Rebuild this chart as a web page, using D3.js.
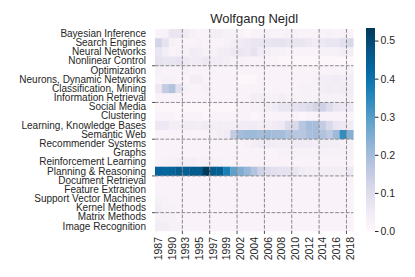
<!DOCTYPE html>
<html>
<head>
<meta charset="utf-8">
<script src="https://cdn.jsdelivr.net/npm/d3@7"></script>
<style>
  body { margin: 0; background: #fff; }
  text { font-family: "Liberation Sans", Arial, sans-serif; fill: #262626; }
</style>
</head>
<body>
<svg id="heatmap" width="415" height="277"></svg>
<script>
const title = "Wolfgang Nejdl";

const years = [1987, 1989, 1990, 1991, 1993, 1994, 1995, 1996, 1997, 1998, 1999, 2000,
  2002, 2003, 2004, 2005, 2006, 2007, 2008, 2009, 2010, 2011, 2012, 2013, 2014,
  2015, 2016, 2017, 2018];
const yearLabels = [1987, 1990, 1993, 1995, 1997, 1999, 2002, 2004, 2006, 2008, 2010,
  2012, 2014, 2016, 2018];

const topics = ["Bayesian Inference", "Search Engines", "Neural Networks", "Nonlinear Control",
  "Optimization", "Neurons, Dynamic Networks", "Classification, Mining", "Information Retrieval",
  "Social Media", "Clustering", "Learning, Knowledge Bases", "Semantic Web",
  "Recommender Systems", "Graphs", "Reinforcement Learning", "Planning & Reasoning",
  "Document Retrieval", "Feature Extraction", "Support Vector Machines", "Kernel Methods",
  "Matrix Methods", "Image Recognition"];

// one row of shares per topic, one value per year column
const bayesian = [0.02,0.03,0.07,0.07,0.05,0.03,0.02,0.02,0.04,0.04,0.03,0.03,0.02,0.01,0.02,0.02,0.03,0.02,0.02,0.03,0.03,0.02,0.02,0.02,0.02,0.03,0.02,0.03,0.02];
const search = [0.12,0.08,0.03,0.02,0.02,0.02,0.03,0.02,0.02,0.02,0.03,0.04,0.05,0.06,0.07,0.07,0.07,0.08,0.08,0.07,0.07,0.07,0.06,0.05,0.06,0.07,0.07,0.09,0.11];
const neural = [0.07,0.04,0.02,0.03,0.03,0.05,0.04,0.03,0.03,0.04,0.05,0.06,0.07,0.06,0.08,0.05,0.04,0.03,0.03,0.02,0.02,0.02,0.02,0.02,0.03,0.03,0.03,0.04,0.04];
const nonlinear = [0.08,0.07,0.07,0.08,0.06,0.05,0.05,0.06,0.05,0.05,0.04,0.03,0.03,0.02,0.02,0.02,0.02,0.02,0.01,0.01,0.01,0.01,0.01,0.01,0.01,0.01,0.01,0.01,0.01];
const optimization = [0.03,0.02,0.02,0.02,0.03,0.02,0.02,0.02,0.02,0.02,0.02,0.02,0.02,0.02,0.02,0.02,0.02,0.02,0.02,0.02,0.02,0.02,0.02,0.02,0.02,0.02,0.02,0.02,0.03];
const neurons = [0.02,0.03,0.03,0.02,0.02,0.04,0.04,0.02,0.02,0.02,0.02,0.02,0.01,0.01,0.01,0.02,0.02,0.02,0.02,0.02,0.02,0.02,0.02,0.03,0.04,0.04,0.05,0.04,0.04];
const classification = [0.06,0.15,0.18,0.09,0.03,0.02,0.02,0.03,0.02,0.02,0.02,0.02,0.02,0.02,0.02,0.02,0.02,0.02,0.02,0.02,0.02,0.03,0.03,0.03,0.04,0.05,0.04,0.05,0.05];
const retrieval = [0.02,0.02,0.02,0.02,0.02,0.02,0.02,0.02,0.02,0.02,0.02,0.02,0.02,0.02,0.04,0.04,0.03,0.03,0.04,0.03,0.03,0.03,0.03,0.03,0.03,0.03,0.03,0.03,0.04];
const social = [0.01,0.01,0.01,0.01,0.01,0.01,0.01,0.01,0.01,0.01,0.01,0.01,0.02,0.02,0.03,0.03,0.04,0.05,0.07,0.07,0.08,0.09,0.10,0.12,0.13,0.10,0.07,0.06,0.06];
const clustering = [0.02,0.02,0.02,0.01,0.02,0.02,0.02,0.01,0.02,0.02,0.02,0.02,0.02,0.02,0.01,0.02,0.02,0.02,0.02,0.02,0.02,0.01,0.02,0.02,0.02,0.02,0.02,0.02,0.02];
const knowledge = [0.06,0.06,0.04,0.04,0.05,0.05,0.04,0.05,0.04,0.04,0.04,0.04,0.05,0.05,0.05,0.04,0.04,0.05,0.06,0.10,0.11,0.17,0.20,0.20,0.15,0.11,0.07,0.06,0.05];
const semantic = [0.02,0.02,0.02,0.02,0.02,0.02,0.02,0.02,0.03,0.04,0.05,0.15,0.20,0.21,0.21,0.20,0.21,0.20,0.20,0.18,0.17,0.17,0.19,0.20,0.18,0.16,0.21,0.34,0.24];
const recommender = [0.02,0.02,0.02,0.02,0.02,0.02,0.02,0.02,0.02,0.02,0.02,0.02,0.02,0.03,0.04,0.05,0.05,0.04,0.04,0.04,0.05,0.05,0.05,0.04,0.04,0.04,0.04,0.03,0.03];
const graphs = [0.02,0.02,0.02,0.02,0.02,0.02,0.02,0.02,0.02,0.02,0.02,0.02,0.02,0.02,0.02,0.02,0.02,0.02,0.03,0.03,0.03,0.03,0.03,0.03,0.03,0.03,0.03,0.03,0.03];
const reinforcement = [0.02,0.03,0.03,0.04,0.04,0.04,0.03,0.03,0.03,0.03,0.02,0.02,0.02,0.02,0.02,0.02,0.02,0.02,0.02,0.02,0.02,0.02,0.02,0.02,0.02,0.02,0.02,0.02,0.02];
const planning = [0.44,0.43,0.44,0.46,0.45,0.46,0.46,0.53,0.46,0.45,0.37,0.29,0.25,0.22,0.18,0.13,0.10,0.09,0.08,0.08,0.07,0.05,0.04,0.04,0.04,0.04,0.04,0.04,0.06];
const document_ = [0.02,0.02,0.02,0.02,0.02,0.02,0.02,0.02,0.02,0.02,0.02,0.02,0.02,0.02,0.02,0.02,0.02,0.02,0.02,0.02,0.02,0.02,0.02,0.02,0.02,0.02,0.02,0.02,0.02];
const feature = [0.02,0.02,0.02,0.02,0.02,0.02,0.02,0.02,0.02,0.02,0.02,0.02,0.02,0.02,0.02,0.02,0.02,0.02,0.02,0.02,0.02,0.02,0.02,0.02,0.02,0.02,0.02,0.02,0.02];
const svm = [0.03,0.03,0.02,0.02,0.02,0.02,0.02,0.02,0.02,0.02,0.02,0.02,0.02,0.02,0.02,0.02,0.02,0.02,0.02,0.02,0.02,0.02,0.02,0.02,0.02,0.02,0.02,0.02,0.02];
const kernel = [0.04,0.03,0.03,0.02,0.02,0.02,0.02,0.02,0.02,0.02,0.02,0.02,0.02,0.02,0.02,0.02,0.02,0.02,0.02,0.02,0.02,0.02,0.02,0.02,0.02,0.02,0.02,0.02,0.02];
const matrix = [0.03,0.03,0.03,0.02,0.02,0.02,0.02,0.02,0.02,0.02,0.02,0.02,0.02,0.02,0.02,0.02,0.02,0.02,0.02,0.02,0.02,0.02,0.02,0.02,0.02,0.02,0.02,0.02,0.02];
const image = [0.04,0.04,0.03,0.03,0.02,0.02,0.02,0.02,0.02,0.02,0.02,0.02,0.02,0.02,0.02,0.02,0.02,0.02,0.02,0.02,0.02,0.02,0.02,0.02,0.02,0.02,0.02,0.02,0.02];

const rows = [bayesian, search, neural, nonlinear, optimization, neurons, classification,
  retrieval, social, clustering, knowledge, semantic, recommender, graphs, reinforcement,
  planning, document_, feature, svm, kernel, matrix, image];

const colorTicks = [0, 0.1, 0.2, 0.3, 0.4, 0.5];
const vmax = 0.533;

const cells = [];
rows.forEach((vals, r) => vals.forEach((v, c) => cells.push({ topic: topics[r], year: years[c], value: v })));

const svg = d3.select("#heatmap");
const mLeft = 155, mRight = 353.3, mTop = 29, mBottom = 231;

const x = d3.scaleBand().domain(years).range([mLeft, mRight]);
const y = d3.scaleBand().domain(topics).range([mTop, mBottom]);
// index scales for the grid lines (every 4th cell edge)
const xi = d3.scaleLinear().domain([0, years.length]).range([mLeft, mRight]);
const yi = d3.scaleLinear().domain([0, topics.length]).range([mTop, mBottom]);

const color = d3.scaleSequential(d3.interpolatePuBu).domain([0, vmax]);

svg.append("g")
  .selectAll("rect")
  .data(cells)
  .join("rect")
  .attr("x", d => x(d.year))
  .attr("y", d => y(d.topic))
  .attr("width", x.bandwidth() + 0.3)
  .attr("height", y.bandwidth() + 0.3)
  .attr("fill", d => color(d.value));

// dashed grid on top of the cells
const gx = d3.range(4, years.length, 4);
const gy = d3.range(4, topics.length, 4);
const grid = svg.append("g").attr("stroke", "#8a8a8a").attr("stroke-width", 1);
grid.selectAll(".vx").data(gx).join("line")
  .attr("x1", d => xi(d)).attr("x2", d => xi(d))
  .attr("y1", mTop).attr("y2", mBottom)
  .attr("stroke-dasharray", "3.7,1.6");
grid.selectAll(".hy").data(gy).join("line")
  .attr("x1", mLeft).attr("x2", mRight)
  .attr("y1", d => yi(d)).attr("y2", d => yi(d))
  .attr("stroke-dasharray", "3.7,1.6");
// small tick marks at the grid positions
grid.selectAll(".tx").data(gx).join("line")
  .attr("x1", d => xi(d)).attr("x2", d => xi(d))
  .attr("y1", mBottom).attr("y2", mBottom + 3).attr("stroke", "#555");
grid.selectAll(".ty").data(gy).join("line")
  .attr("x1", mLeft - 3).attr("x2", mLeft)
  .attr("y1", d => yi(d)).attr("y2", d => yi(d)).attr("stroke", "#555");

// axes
const xAxis = svg.append("g")
  .attr("transform", `translate(0,${mBottom})`)
  .call(d3.axisBottom(x).tickValues(yearLabels).tickSize(0).tickPadding(0));
xAxis.select(".domain").remove();
xAxis.selectAll("text")
  .attr("transform", "rotate(-90)")
  .attr("x", -6).attr("y", 0).attr("dy", "0.35em")
  .attr("text-anchor", "end")
  .style("font-size", "10.5px");

const yAxis = svg.append("g")
  .attr("transform", `translate(${mLeft},0)`)
  .call(d3.axisLeft(y).tickSize(0).tickPadding(9));
yAxis.select(".domain").remove();
yAxis.selectAll("text").style("font-size", "10px");

svg.append("text")
  .attr("x", (mLeft + mRight) / 2).attr("y", 23)
  .attr("text-anchor", "middle")
  .style("font-size", "13px")
  .text(title);

// colorbar
const cb = d3.scaleLinear().domain([0, vmax]).range([231, 28]);
const grad = svg.append("defs").append("linearGradient")
  .attr("id", "cbar").attr("x1", 0).attr("x2", 0).attr("y1", 1).attr("y2", 0);
grad.selectAll("stop").data(d3.range(0, 1.0001, 0.05)).join("stop")
  .attr("offset", d => d)
  .attr("stop-color", d => color(d * vmax));
svg.append("rect")
  .attr("x", 366).attr("y", cb(vmax))
  .attr("width", 9).attr("height", cb(0) - cb(vmax))
  .attr("fill", "url(#cbar)");
const cAxis = svg.append("g")
  .attr("transform", "translate(375,0)")
  .call(d3.axisRight(cb).tickValues(colorTicks).tickFormat(d3.format(".1f")).tickSize(3.5).tickPadding(2));
cAxis.select(".domain").remove();
cAxis.selectAll("line").attr("stroke", "#262626");
cAxis.selectAll("text").style("font-size", "10.5px");
</script>
</body>
</html>
